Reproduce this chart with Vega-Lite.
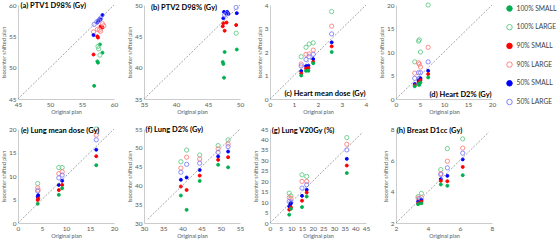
{
  "$schema": "https://vega.github.io/schema/vega-lite/v6.json",
  "padding": {"left": 1, "top": 1, "right": 0, "bottom": 0},
  "config": {
    "font": "Lato",
    "view": {"stroke": null},
    "axis": {"grid": false, "ticks": false, "tickCount": 20, "domainColor": "#bfbfbf", "domainWidth": 0.8, "labelFontSize": 6.5, "labelColor": "#595959", "labelPadding": 2, "labelOverlap": false, "labelFlush": false, "titleFontSize": 5.5, "titleFontWeight": "normal", "titleColor": "#595959", "titlePadding": 2},
    "legend": {"orient": "right", "offset": 10, "padding": 0, "rowPadding": 7.7, "labelFontSize": 6.7, "labelColor": "#404040", "labelOffset": 3.5, "symbolSize": 30, "symbolStrokeWidth": 1, "symbolType": "circle"},
    "text": {"fontWeight": "bold", "fontSize": 7.5, "color": "#000000"}
  },
  "spacing": {"row": 10, "column": 9},
  "columns": 4,
  "data": {"values": [
    {"p":"a","s":"100% SMALL","x":56.9,"y":47.1},{"p":"a","s":"100% SMALL","x":57.4,"y":51.0},{"p":"a","s":"100% SMALL","x":57.5,"y":50.8},{"p":"a","s":"100% SMALL","x":57.8,"y":53.7},{"p":"a","s":"100% SMALL","x":58.2,"y":52.4},
    {"p":"a","s":"100% LARGE","x":57.5,"y":53.4},{"p":"a","s":"100% LARGE","x":57.6,"y":53.0},{"p":"a","s":"100% LARGE","x":57.8,"y":52.0},
    {"p":"a","s":"90% SMALL","x":56.8,"y":52.1},{"p":"a","s":"90% SMALL","x":57.4,"y":55.0},{"p":"a","s":"90% SMALL","x":57.5,"y":54.8},{"p":"a","s":"90% SMALL","x":57.9,"y":56.6},{"p":"a","s":"90% SMALL","x":58.2,"y":56.4},
    {"p":"a","s":"90% LARGE","x":56.8,"y":55.7},{"p":"a","s":"90% LARGE","x":57.4,"y":56.1},{"p":"a","s":"90% LARGE","x":57.7,"y":56.0},{"p":"a","s":"90% LARGE","x":57.9,"y":55.8},{"p":"a","s":"90% LARGE","x":58.2,"y":57.0},{"p":"a","s":"90% LARGE","x":58.4,"y":56.7},
    {"p":"a","s":"50% SMALL","x":56.8,"y":55.2},{"p":"a","s":"50% SMALL","x":57.4,"y":57.2},{"p":"a","s":"50% SMALL","x":57.5,"y":57.4},{"p":"a","s":"50% SMALL","x":57.7,"y":57.7},{"p":"a","s":"50% SMALL","x":57.9,"y":57.7},{"p":"a","s":"50% SMALL","x":58.2,"y":58.4},
    {"p":"a","s":"50% LARGE","x":56.9,"y":56.9},{"p":"a","s":"50% LARGE","x":57.3,"y":57.3},{"p":"a","s":"50% LARGE","x":57.6,"y":57.5},{"p":"a","s":"50% LARGE","x":57.9,"y":57.9},

    {"p":"b","s":"100% SMALL","x":47.6,"y":42.5},{"p":"b","s":"100% SMALL","x":49.5,"y":42.9},{"p":"b","s":"100% SMALL","x":47.3,"y":40.9},{"p":"b","s":"100% SMALL","x":47.4,"y":40.6},{"p":"b","s":"100% SMALL","x":47.5,"y":38.4},
    {"p":"b","s":"100% LARGE","x":49.4,"y":45.5},
    {"p":"b","s":"90% SMALL","x":47.4,"y":47.1},{"p":"b","s":"90% SMALL","x":47.9,"y":47.2},{"p":"b","s":"90% SMALL","x":47.6,"y":45.9},{"p":"b","s":"90% SMALL","x":49.4,"y":46.8},{"p":"b","s":"90% SMALL","x":47.3,"y":46.6},
    {"p":"b","s":"50% SMALL","x":47.5,"y":48.9},{"p":"b","s":"50% SMALL","x":47.8,"y":48.7},{"p":"b","s":"50% SMALL","x":48.0,"y":48.9},{"p":"b","s":"50% SMALL","x":48.2,"y":48.6},{"p":"b","s":"50% SMALL","x":47.4,"y":47.9},{"p":"b","s":"50% SMALL","x":49.5,"y":48.7},
    {"p":"b","s":"50% LARGE","x":47.6,"y":48.4},{"p":"b","s":"50% LARGE","x":47.9,"y":48.6},{"p":"b","s":"50% LARGE","x":49.4,"y":49.6},

    {"p":"c","s":"100% LARGE","x":1.3,"y":1.8},{"p":"c","s":"100% LARGE","x":1.5,"y":2.2},{"p":"c","s":"100% LARGE","x":1.63,"y":2.34},{"p":"c","s":"100% LARGE","x":1.8,"y":2.39},{"p":"c","s":"100% LARGE","x":2.57,"y":3.72},
    {"p":"c","s":"90% LARGE","x":1.3,"y":1.49},{"p":"c","s":"90% LARGE","x":1.5,"y":1.9},{"p":"c","s":"90% LARGE","x":1.63,"y":1.92},{"p":"c","s":"90% LARGE","x":1.8,"y":2.08},{"p":"c","s":"90% LARGE","x":2.57,"y":3.1},
    {"p":"c","s":"50% LARGE","x":1.3,"y":1.41},{"p":"c","s":"50% LARGE","x":1.5,"y":1.68},{"p":"c","s":"50% LARGE","x":1.63,"y":1.8},{"p":"c","s":"50% LARGE","x":1.8,"y":1.9},{"p":"c","s":"50% LARGE","x":2.57,"y":2.77},
    {"p":"c","s":"50% SMALL","x":1.3,"y":1.19},{"p":"c","s":"50% SMALL","x":1.5,"y":1.4},{"p":"c","s":"50% SMALL","x":1.6,"y":1.42},{"p":"c","s":"50% SMALL","x":1.8,"y":1.7},{"p":"c","s":"50% SMALL","x":2.57,"y":2.41},
    {"p":"c","s":"90% SMALL","x":1.3,"y":1.09},{"p":"c","s":"90% SMALL","x":1.5,"y":1.3},{"p":"c","s":"90% SMALL","x":1.6,"y":1.32},{"p":"c","s":"90% SMALL","x":1.8,"y":1.58},{"p":"c","s":"90% SMALL","x":2.57,"y":2.24},
    {"p":"c","s":"100% SMALL","x":1.3,"y":1.0},{"p":"c","s":"100% SMALL","x":1.5,"y":1.2},{"p":"c","s":"100% SMALL","x":1.6,"y":1.2},{"p":"c","s":"100% SMALL","x":1.8,"y":1.52},{"p":"c","s":"100% SMALL","x":2.57,"y":2.0},

    {"p":"d","s":"100% LARGE","x":3.9,"y":7.9},{"p":"d","s":"100% LARGE","x":4.7,"y":12.3},{"p":"d","s":"100% LARGE","x":4.85,"y":12.6},{"p":"d","s":"100% LARGE","x":5.1,"y":10.0},{"p":"d","s":"100% LARGE","x":6.7,"y":20.0},
    {"p":"d","s":"90% LARGE","x":3.9,"y":5.5},{"p":"d","s":"90% LARGE","x":4.7,"y":7.7},{"p":"d","s":"90% LARGE","x":4.85,"y":7.4},{"p":"d","s":"90% LARGE","x":5.1,"y":6.8},{"p":"d","s":"90% LARGE","x":6.7,"y":11.0},
    {"p":"d","s":"50% LARGE","x":3.9,"y":4.4},{"p":"d","s":"50% LARGE","x":4.7,"y":5.6},{"p":"d","s":"50% LARGE","x":4.85,"y":4.4},{"p":"d","s":"50% LARGE","x":5.1,"y":5.6},{"p":"d","s":"50% LARGE","x":6.7,"y":7.9},
    {"p":"d","s":"50% SMALL","x":3.9,"y":3.2},{"p":"d","s":"50% SMALL","x":4.7,"y":3.9},{"p":"d","s":"50% SMALL","x":4.85,"y":3.7},{"p":"d","s":"50% SMALL","x":5.1,"y":4.4},{"p":"d","s":"50% SMALL","x":6.7,"y":6.0},
    {"p":"d","s":"90% SMALL","x":3.9,"y":2.9},{"p":"d","s":"90% SMALL","x":4.7,"y":3.5},{"p":"d","s":"90% SMALL","x":4.85,"y":3.4},{"p":"d","s":"90% SMALL","x":5.1,"y":4.0},{"p":"d","s":"90% SMALL","x":6.7,"y":5.3},
    {"p":"d","s":"100% SMALL","x":3.9,"y":2.7},{"p":"d","s":"100% SMALL","x":4.7,"y":3.2},{"p":"d","s":"100% SMALL","x":4.85,"y":3.0},{"p":"d","s":"100% SMALL","x":5.1,"y":3.5},{"p":"d","s":"100% SMALL","x":6.7,"y":4.6},

    {"p":"e","s":"100% LARGE","x":4.1,"y":8.4},{"p":"e","s":"100% LARGE","x":8.5,"y":11.8},{"p":"e","s":"100% LARGE","x":9.2,"y":11.8},{"p":"e","s":"100% LARGE","x":16.3,"y":20.0},
    {"p":"e","s":"90% LARGE","x":4.1,"y":7.5},{"p":"e","s":"90% LARGE","x":4.2,"y":7.0},{"p":"e","s":"90% LARGE","x":8.5,"y":10.5},{"p":"e","s":"90% LARGE","x":9.2,"y":10.9},{"p":"e","s":"90% LARGE","x":16.3,"y":18.7},
    {"p":"e","s":"50% LARGE","x":4.1,"y":6.8},{"p":"e","s":"50% LARGE","x":8.5,"y":9.6},{"p":"e","s":"50% LARGE","x":9.2,"y":10.2},{"p":"e","s":"50% LARGE","x":16.3,"y":17.7},
    {"p":"e","s":"50% SMALL","x":4.1,"y":5.6},{"p":"e","s":"50% SMALL","x":4.2,"y":5.9},{"p":"e","s":"50% SMALL","x":8.5,"y":8.1},{"p":"e","s":"50% SMALL","x":9.2,"y":9.0},{"p":"e","s":"50% SMALL","x":16.3,"y":15.6},
    {"p":"e","s":"90% SMALL","x":4.1,"y":4.9},{"p":"e","s":"90% SMALL","x":4.2,"y":5.2},{"p":"e","s":"90% SMALL","x":8.5,"y":7.0},{"p":"e","s":"90% SMALL","x":9.2,"y":8.1},{"p":"e","s":"90% SMALL","x":16.3,"y":14.2},
    {"p":"e","s":"100% SMALL","x":4.1,"y":4.1},{"p":"e","s":"100% SMALL","x":8.5,"y":6.0},{"p":"e","s":"100% SMALL","x":9.2,"y":7.4},{"p":"e","s":"100% SMALL","x":16.3,"y":12.3},

    {"p":"f","s":"100% LARGE","x":39.6,"y":46.3},{"p":"f","s":"100% LARGE","x":41.1,"y":49.4},{"p":"f","s":"100% LARGE","x":44.5,"y":48.1},{"p":"f","s":"100% LARGE","x":49.3,"y":50.6},{"p":"f","s":"100% LARGE","x":51.9,"y":52.1},
    {"p":"f","s":"90% LARGE","x":39.6,"y":44.6},{"p":"f","s":"90% LARGE","x":41.1,"y":47.5},{"p":"f","s":"90% LARGE","x":44.5,"y":47.0},{"p":"f","s":"90% LARGE","x":49.3,"y":49.7},{"p":"f","s":"90% LARGE","x":51.9,"y":51.0},
    {"p":"f","s":"50% LARGE","x":39.6,"y":43.5},{"p":"f","s":"50% LARGE","x":41.1,"y":45.6},{"p":"f","s":"50% LARGE","x":44.5,"y":45.9},{"p":"f","s":"50% LARGE","x":49.3,"y":48.8},{"p":"f","s":"50% LARGE","x":51.9,"y":50.3},
    {"p":"f","s":"50% SMALL","x":39.6,"y":41.5},{"p":"f","s":"50% SMALL","x":41.1,"y":42.1},{"p":"f","s":"50% SMALL","x":44.5,"y":44.1},{"p":"f","s":"50% SMALL","x":49.3,"y":47.7},{"p":"f","s":"50% SMALL","x":51.9,"y":49.0},
    {"p":"f","s":"90% SMALL","x":39.6,"y":39.7},{"p":"f","s":"90% SMALL","x":41.1,"y":38.8},{"p":"f","s":"90% SMALL","x":44.5,"y":42.6},{"p":"f","s":"90% SMALL","x":49.3,"y":46.8},{"p":"f","s":"90% SMALL","x":51.9,"y":47.5},
    {"p":"f","s":"100% SMALL","x":39.6,"y":37.3},{"p":"f","s":"100% SMALL","x":41.1,"y":33.5},{"p":"f","s":"100% SMALL","x":44.5,"y":41.2},{"p":"f","s":"100% SMALL","x":49.3,"y":45.5},{"p":"f","s":"100% SMALL","x":51.9,"y":44.8},

    {"p":"g","s":"100% LARGE","x":9.0,"y":14.3},{"p":"g","s":"100% LARGE","x":9.8,"y":13.0},{"p":"g","s":"100% LARGE","x":15.0,"y":23.1},{"p":"g","s":"100% LARGE","x":17.2,"y":22.3},{"p":"g","s":"100% LARGE","x":36.0,"y":40.9},
    {"p":"g","s":"90% LARGE","x":9.0,"y":12.2},{"p":"g","s":"90% LARGE","x":9.8,"y":11.9},{"p":"g","s":"90% LARGE","x":15.0,"y":19.9},{"p":"g","s":"90% LARGE","x":17.2,"y":19.9},{"p":"g","s":"90% LARGE","x":36.0,"y":37.7},
    {"p":"g","s":"50% LARGE","x":9.0,"y":10.3},{"p":"g","s":"50% LARGE","x":9.8,"y":10.0},{"p":"g","s":"50% LARGE","x":15.0,"y":16.7},{"p":"g","s":"50% LARGE","x":17.2,"y":18.3},{"p":"g","s":"50% LARGE","x":36.0,"y":35.0},
    {"p":"g","s":"50% SMALL","x":9.0,"y":8.0},{"p":"g","s":"50% SMALL","x":9.5,"y":8.8},{"p":"g","s":"50% SMALL","x":9.8,"y":9.5},{"p":"g","s":"50% SMALL","x":15.0,"y":13.0},{"p":"g","s":"50% SMALL","x":17.2,"y":15.9},{"p":"g","s":"50% SMALL","x":36.0,"y":30.7},
    {"p":"g","s":"90% SMALL","x":9.0,"y":6.4},{"p":"g","s":"90% SMALL","x":9.8,"y":7.5},{"p":"g","s":"90% SMALL","x":15.0,"y":10.7},{"p":"g","s":"90% SMALL","x":17.2,"y":14.6},{"p":"g","s":"90% SMALL","x":36.0,"y":27.5},
    {"p":"g","s":"100% SMALL","x":9.0,"y":4.0},{"p":"g","s":"100% SMALL","x":9.8,"y":6.8},{"p":"g","s":"100% SMALL","x":15.0,"y":7.6},{"p":"g","s":"100% SMALL","x":17.2,"y":12.7},{"p":"g","s":"100% SMALL","x":36.0,"y":23.9},

    {"p":"h","s":"100% LARGE","x":3.59,"y":3.89},{"p":"h","s":"100% LARGE","x":3.38,"y":3.68},{"p":"h","s":"100% LARGE","x":4.8,"y":5.41},{"p":"h","s":"100% LARGE","x":5.21,"y":6.75},{"p":"h","s":"100% LARGE","x":6.17,"y":7.37},
    {"p":"h","s":"90% LARGE","x":3.38,"y":3.58},{"p":"h","s":"90% LARGE","x":3.59,"y":3.62},{"p":"h","s":"90% LARGE","x":4.8,"y":5.16},{"p":"h","s":"90% LARGE","x":5.21,"y":5.94},{"p":"h","s":"90% LARGE","x":6.17,"y":6.78},
    {"p":"h","s":"50% LARGE","x":3.45,"y":3.54},{"p":"h","s":"50% LARGE","x":4.8,"y":5.09},{"p":"h","s":"50% LARGE","x":5.21,"y":5.52},{"p":"h","s":"50% LARGE","x":6.17,"y":6.46},
    {"p":"h","s":"50% SMALL","x":3.38,"y":3.37},{"p":"h","s":"50% SMALL","x":3.59,"y":3.47},{"p":"h","s":"50% SMALL","x":4.8,"y":4.8},{"p":"h","s":"50% SMALL","x":5.21,"y":5.01},{"p":"h","s":"50% SMALL","x":6.17,"y":6.06},
    {"p":"h","s":"90% SMALL","x":3.38,"y":3.26},{"p":"h","s":"90% SMALL","x":3.59,"y":3.37},{"p":"h","s":"90% SMALL","x":4.8,"y":4.69},{"p":"h","s":"90% SMALL","x":5.21,"y":4.67},{"p":"h","s":"90% SMALL","x":6.17,"y":5.58},
    {"p":"h","s":"100% SMALL","x":3.38,"y":3.2},{"p":"h","s":"100% SMALL","x":3.59,"y":3.26},{"p":"h","s":"100% SMALL","x":4.8,"y":4.46},{"p":"h","s":"100% SMALL","x":5.21,"y":4.38},{"p":"h","s":"100% SMALL","x":6.17,"y":5.05}
  ]},
  "concat": [
    {"width": 96, "height": 94, "layer": [
      {"transform": [{"filter": "datum.p == 'a'"}], "mark": {"type": "point", "opacity": 1, "strokeWidth": 0.9},
       "encoding": {"x": {"field": "x", "type": "quantitative", "scale": {"domain": [45, 60], "nice": false, "zero": false}, "axis": {"values": [45, 50, 55, 60], "tickCount": 20, "format": "d", "title": "Original plan"}},
                    "y": {"field": "y", "type": "quantitative", "scale": {"domain": [45, 60], "nice": false, "zero": false}, "axis": {"values": [45, 50, 55, 60], "tickCount": 20, "format": "d", "title": "Isocenter shifted plan"}},
                    "stroke": {"field": "s", "type": "nominal", "title": null, "scale": {"domain": ["100% SMALL", "100% LARGE", "90% SMALL", "90% LARGE", "50% SMALL", "50% LARGE"], "range": ["#00b050", "#66cc8a", "#ff0000", "#ff8080", "#0000ff", "#8080ff"]}},
                    "fill": {"field": "s", "type": "nominal", "title": null, "scale": {"domain": ["100% SMALL", "100% LARGE", "90% SMALL", "90% LARGE", "50% SMALL", "50% LARGE"], "range": ["#00b050", "transparent", "#ff0000", "transparent", "#0000ff", "transparent"]}},
                    "size": {"condition": {"test": "indexof(datum.s, 'SMALL') >= 0", "value": 9}, "value": 18}}},
      {"data": {"values": [{}]}, "mark": {"type": "rule", "strokeDash": [2, 1.5], "color": "#7f7f7f", "strokeWidth": 0.7},
       "encoding": {"x": {"datum": 45, "type": "quantitative"}, "y": {"datum": 45, "type": "quantitative"}, "x2": {"datum": 60}, "y2": {"datum": 60}}},
      {"data": {"values": [{}]}, "mark": {"type": "text", "text": "(a) PTV1 D98% (Gy)", "align": "left", "baseline": "middle"},
       "encoding": {"x": {"datum": 45.4, "type": "quantitative"}, "y": {"datum": 59.8, "type": "quantitative"}}}
    ]},
    {"width": 96, "height": 94, "layer": [
      {"transform": [{"filter": "datum.p == 'b'"}], "mark": {"type": "point", "opacity": 1, "strokeWidth": 0.9},
       "encoding": {"x": {"field": "x", "type": "quantitative", "scale": {"domain": [35, 50], "nice": false, "zero": false}, "axis": {"values": [35, 40, 45, 50], "tickCount": 20, "format": "d", "title": "Original plan"}},
                    "y": {"field": "y", "type": "quantitative", "scale": {"domain": [35, 50], "nice": false, "zero": false}, "axis": {"values": [35, 40, 45, 50], "tickCount": 20, "format": "d", "title": "Isocenter shifted plan"}},
                    "stroke": {"field": "s", "type": "nominal", "title": null, "scale": {"domain": ["100% SMALL", "100% LARGE", "90% SMALL", "90% LARGE", "50% SMALL", "50% LARGE"], "range": ["#00b050", "#66cc8a", "#ff0000", "#ff8080", "#0000ff", "#8080ff"]}},
                    "fill": {"field": "s", "type": "nominal", "title": null, "scale": {"domain": ["100% SMALL", "100% LARGE", "90% SMALL", "90% LARGE", "50% SMALL", "50% LARGE"], "range": ["#00b050", "transparent", "#ff0000", "transparent", "#0000ff", "transparent"]}},
                    "size": {"condition": {"test": "indexof(datum.s, 'SMALL') >= 0", "value": 9}, "value": 18}}},
      {"data": {"values": [{}]}, "mark": {"type": "rule", "strokeDash": [2, 1.5], "color": "#7f7f7f", "strokeWidth": 0.7},
       "encoding": {"x": {"datum": 35, "type": "quantitative"}, "y": {"datum": 35, "type": "quantitative"}, "x2": {"datum": 50}, "y2": {"datum": 50}}},
      {"data": {"values": [{}]}, "mark": {"type": "text", "text": "(b) PTV2 D98% (Gy)", "align": "left", "baseline": "middle"},
       "encoding": {"x": {"datum": 36.1, "type": "quantitative"}, "y": {"datum": 49.6, "type": "quantitative"}}}
    ]},
    {"width": 96, "height": 94, "layer": [
      {"transform": [{"filter": "datum.p == 'c'"}], "mark": {"type": "point", "opacity": 1, "strokeWidth": 0.9},
       "encoding": {"x": {"field": "x", "type": "quantitative", "scale": {"domain": [0, 4], "nice": false}, "axis": {"values": [0, 1, 2, 3, 4], "tickCount": 20, "format": "d", "title": "Original plan"}},
                    "y": {"field": "y", "type": "quantitative", "scale": {"domain": [0, 4], "nice": false}, "axis": {"values": [0, 1, 2, 3, 4], "tickCount": 20, "format": "d", "title": "Isocenter shifted plan"}},
                    "stroke": {"field": "s", "type": "nominal", "title": null, "scale": {"domain": ["100% SMALL", "100% LARGE", "90% SMALL", "90% LARGE", "50% SMALL", "50% LARGE"], "range": ["#00b050", "#66cc8a", "#ff0000", "#ff8080", "#0000ff", "#8080ff"]}},
                    "fill": {"field": "s", "type": "nominal", "title": null, "scale": {"domain": ["100% SMALL", "100% LARGE", "90% SMALL", "90% LARGE", "50% SMALL", "50% LARGE"], "range": ["#00b050", "transparent", "#ff0000", "transparent", "#0000ff", "transparent"]}},
                    "size": {"condition": {"test": "indexof(datum.s, 'SMALL') >= 0", "value": 9}, "value": 18}}},
      {"data": {"values": [{}]}, "mark": {"type": "rule", "strokeDash": [2, 1.5], "color": "#7f7f7f", "strokeWidth": 0.7},
       "encoding": {"x": {"datum": 0, "type": "quantitative"}, "y": {"datum": 0, "type": "quantitative"}, "x2": {"datum": 4}, "y2": {"datum": 4}}},
      {"data": {"values": [{}]}, "mark": {"type": "text", "text": "(c) Heart mean dose (Gy)", "align": "right", "baseline": "middle"},
       "encoding": {"x": {"datum": 3.98, "type": "quantitative"}, "y": {"datum": 0.2, "type": "quantitative"}}}
    ]},
    {"width": 96, "height": 94, "layer": [
      {"transform": [{"filter": "datum.p == 'd'"}], "mark": {"type": "point", "opacity": 1, "strokeWidth": 0.9},
       "encoding": {"x": {"field": "x", "type": "quantitative", "scale": {"domain": [0, 20], "nice": false}, "axis": {"values": [0, 5, 10, 15, 20], "tickCount": 20, "format": "d", "title": "Original plan"}},
                    "y": {"field": "y", "type": "quantitative", "scale": {"domain": [0, 20], "nice": false}, "axis": {"values": [0, 5, 10, 15, 20], "tickCount": 20, "format": "d", "title": "Isocenter shifted plan"}},
                    "stroke": {"field": "s", "type": "nominal", "title": null, "scale": {"domain": ["100% SMALL", "100% LARGE", "90% SMALL", "90% LARGE", "50% SMALL", "50% LARGE"], "range": ["#00b050", "#66cc8a", "#ff0000", "#ff8080", "#0000ff", "#8080ff"]}},
                    "fill": {"field": "s", "type": "nominal", "title": null, "scale": {"domain": ["100% SMALL", "100% LARGE", "90% SMALL", "90% LARGE", "50% SMALL", "50% LARGE"], "range": ["#00b050", "transparent", "#ff0000", "transparent", "#0000ff", "transparent"]}},
                    "size": {"condition": {"test": "indexof(datum.s, 'SMALL') >= 0", "value": 9}, "value": 18}}},
      {"data": {"values": [{}]}, "mark": {"type": "rule", "strokeDash": [2, 1.5], "color": "#7f7f7f", "strokeWidth": 0.7},
       "encoding": {"x": {"datum": 0, "type": "quantitative"}, "y": {"datum": 0, "type": "quantitative"}, "x2": {"datum": 20}, "y2": {"datum": 20}}},
      {"data": {"values": [{}]}, "mark": {"type": "text", "text": "(d) Heart D2% (Gy)", "align": "right", "baseline": "middle"},
       "encoding": {"x": {"datum": 19.9, "type": "quantitative"}, "y": {"datum": 0.9, "type": "quantitative"}}}
    ]},
    {"width": 96, "height": 94, "layer": [
      {"transform": [{"filter": "datum.p == 'e'"}], "mark": {"type": "point", "opacity": 1, "strokeWidth": 0.9},
       "encoding": {"x": {"field": "x", "type": "quantitative", "scale": {"domain": [0, 20], "nice": false}, "axis": {"values": [0, 5, 10, 15, 20], "tickCount": 20, "format": "d", "title": "Original plan"}},
                    "y": {"field": "y", "type": "quantitative", "scale": {"domain": [0, 20], "nice": false}, "axis": {"values": [0, 5, 10, 15, 20], "tickCount": 20, "format": "d", "title": "Isocenter shifted plan"}},
                    "stroke": {"field": "s", "type": "nominal", "title": null, "scale": {"domain": ["100% SMALL", "100% LARGE", "90% SMALL", "90% LARGE", "50% SMALL", "50% LARGE"], "range": ["#00b050", "#66cc8a", "#ff0000", "#ff8080", "#0000ff", "#8080ff"]}},
                    "fill": {"field": "s", "type": "nominal", "title": null, "scale": {"domain": ["100% SMALL", "100% LARGE", "90% SMALL", "90% LARGE", "50% SMALL", "50% LARGE"], "range": ["#00b050", "transparent", "#ff0000", "transparent", "#0000ff", "transparent"]}},
                    "size": {"condition": {"test": "indexof(datum.s, 'SMALL') >= 0", "value": 9}, "value": 18}}},
      {"data": {"values": [{}]}, "mark": {"type": "rule", "strokeDash": [2, 1.5], "color": "#7f7f7f", "strokeWidth": 0.7},
       "encoding": {"x": {"datum": 0, "type": "quantitative"}, "y": {"datum": 0, "type": "quantitative"}, "x2": {"datum": 20}, "y2": {"datum": 20}}},
      {"data": {"values": [{}]}, "mark": {"type": "text", "text": "(e) Lung mean dose (Gy)", "align": "left", "baseline": "middle"},
       "encoding": {"x": {"datum": 0.6, "type": "quantitative"}, "y": {"datum": 19.6, "type": "quantitative"}}}
    ]},
    {"width": 96, "height": 94, "layer": [
      {"transform": [{"filter": "datum.p == 'f'"}], "mark": {"type": "point", "opacity": 1, "strokeWidth": 0.9},
       "encoding": {"x": {"field": "x", "type": "quantitative", "scale": {"domain": [30, 55], "nice": false, "zero": false}, "axis": {"values": [30, 35, 40, 45, 50, 55], "tickCount": 20, "format": "d", "title": "Original plan"}},
                    "y": {"field": "y", "type": "quantitative", "scale": {"domain": [30, 55], "nice": false, "zero": false}, "axis": {"values": [30, 35, 40, 45, 50, 55], "tickCount": 20, "format": "d", "title": "Isocenter shifted plan"}},
                    "stroke": {"field": "s", "type": "nominal", "title": null, "scale": {"domain": ["100% SMALL", "100% LARGE", "90% SMALL", "90% LARGE", "50% SMALL", "50% LARGE"], "range": ["#00b050", "#66cc8a", "#ff0000", "#ff8080", "#0000ff", "#8080ff"]}},
                    "fill": {"field": "s", "type": "nominal", "title": null, "scale": {"domain": ["100% SMALL", "100% LARGE", "90% SMALL", "90% LARGE", "50% SMALL", "50% LARGE"], "range": ["#00b050", "transparent", "#ff0000", "transparent", "#0000ff", "transparent"]}},
                    "size": {"condition": {"test": "indexof(datum.s, 'SMALL') >= 0", "value": 9}, "value": 18}}},
      {"data": {"values": [{}]}, "mark": {"type": "rule", "strokeDash": [2, 1.5], "color": "#7f7f7f", "strokeWidth": 0.7},
       "encoding": {"x": {"datum": 31, "type": "quantitative"}, "y": {"datum": 31, "type": "quantitative"}, "x2": {"datum": 55}, "y2": {"datum": 55}}},
      {"data": {"values": [{}]}, "mark": {"type": "text", "text": "(f) Lung D2% (Gy)", "align": "left", "baseline": "middle"},
       "encoding": {"x": {"datum": 30.4, "type": "quantitative"}, "y": {"datum": 54.7, "type": "quantitative"}}}
    ]},
    {"width": 96, "height": 94, "layer": [
      {"transform": [{"filter": "datum.p == 'g'"}], "mark": {"type": "point", "opacity": 1, "strokeWidth": 0.9},
       "encoding": {"x": {"field": "x", "type": "quantitative", "scale": {"domain": [0, 45], "nice": false}, "axis": {"values": [0, 5, 10, 15, 20, 25, 30, 35, 40, 45], "tickCount": 20, "format": "d", "title": "Original plan"}},
                    "y": {"field": "y", "type": "quantitative", "scale": {"domain": [0, 45], "nice": false}, "axis": {"values": [0, 5, 10, 15, 20, 25, 30, 35, 40, 45], "tickCount": 20, "format": "d", "title": "Isocenter shifted plan"}},
                    "stroke": {"field": "s", "type": "nominal", "title": null, "scale": {"domain": ["100% SMALL", "100% LARGE", "90% SMALL", "90% LARGE", "50% SMALL", "50% LARGE"], "range": ["#00b050", "#66cc8a", "#ff0000", "#ff8080", "#0000ff", "#8080ff"]}},
                    "fill": {"field": "s", "type": "nominal", "title": null, "scale": {"domain": ["100% SMALL", "100% LARGE", "90% SMALL", "90% LARGE", "50% SMALL", "50% LARGE"], "range": ["#00b050", "transparent", "#ff0000", "transparent", "#0000ff", "transparent"]}},
                    "size": {"condition": {"test": "indexof(datum.s, 'SMALL') >= 0", "value": 9}, "value": 18}}},
      {"data": {"values": [{}]}, "mark": {"type": "rule", "strokeDash": [2, 1.5], "color": "#7f7f7f", "strokeWidth": 0.7},
       "encoding": {"x": {"datum": 0, "type": "quantitative"}, "y": {"datum": 0, "type": "quantitative"}, "x2": {"datum": 43}, "y2": {"datum": 43}}},
      {"data": {"values": [{}]}, "mark": {"type": "text", "text": "(g) Lung V20Gy (%)", "align": "left", "baseline": "middle"},
       "encoding": {"x": {"datum": 0.8, "type": "quantitative"}, "y": {"datum": 44.0, "type": "quantitative"}}}
    ]},
    {"width": 96, "height": 94, "layer": [
      {"transform": [{"filter": "datum.p == 'h'"}], "mark": {"type": "point", "opacity": 1, "strokeWidth": 0.9},
       "encoding": {"x": {"field": "x", "type": "quantitative", "scale": {"domain": [2, 8], "nice": false, "zero": false}, "axis": {"values": [2, 4, 6, 8], "tickCount": 20, "format": "d", "title": "Original plan"}},
                    "y": {"field": "y", "type": "quantitative", "scale": {"domain": [2, 8], "nice": false, "zero": false}, "axis": {"values": [2, 4, 6, 8], "tickCount": 20, "format": "d", "title": "Isocenter shifted plan"}},
                    "stroke": {"field": "s", "type": "nominal", "title": null, "scale": {"domain": ["100% SMALL", "100% LARGE", "90% SMALL", "90% LARGE", "50% SMALL", "50% LARGE"], "range": ["#00b050", "#66cc8a", "#ff0000", "#ff8080", "#0000ff", "#8080ff"]}},
                    "fill": {"field": "s", "type": "nominal", "title": null, "scale": {"domain": ["100% SMALL", "100% LARGE", "90% SMALL", "90% LARGE", "50% SMALL", "50% LARGE"], "range": ["#00b050", "transparent", "#ff0000", "transparent", "#0000ff", "transparent"]}},
                    "size": {"condition": {"test": "indexof(datum.s, 'SMALL') >= 0", "value": 9}, "value": 18}}},
      {"data": {"values": [{}]}, "mark": {"type": "rule", "strokeDash": [2, 1.5], "color": "#7f7f7f", "strokeWidth": 0.7},
       "encoding": {"x": {"datum": 2, "type": "quantitative"}, "y": {"datum": 2, "type": "quantitative"}, "x2": {"datum": 7.8}, "y2": {"datum": 7.8}}},
      {"data": {"values": [{}]}, "mark": {"type": "text", "text": "(h) Breast D1cc (Gy)", "align": "left", "baseline": "middle"},
       "encoding": {"x": {"datum": 2.05, "type": "quantitative"}, "y": {"datum": 7.87, "type": "quantitative"}}}
    ]}
  ]
}
